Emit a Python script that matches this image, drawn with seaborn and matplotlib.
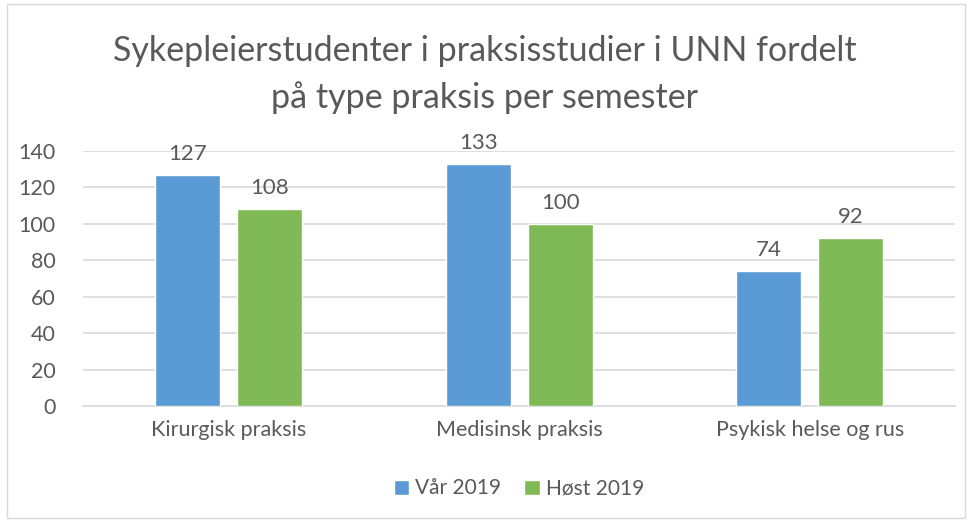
import pandas as pd
import matplotlib.pyplot as plt
import seaborn as sns
from matplotlib.patches import Rectangle

# data
categories = ["Kirurgisk praksis", "Medisinsk praksis", "Psykisk helse og rus"]
semesters = ["Vår 2019", "Høst 2019"]
var_2019 = [127, 133, 74]
host_2019 = [108, 100, 92]

df = pd.DataFrame({
    "praksis": categories * 2,
    "semester": [semesters[0]] * 3 + [semesters[1]] * 3,
    "antall": var_2019 + host_2019,
})

sns.set_style("white")
plt.rcParams['font.family'] = ['Lato', 'DejaVu Sans']
grey = "#595959"

fig = plt.figure(figsize=(9.7, 5.22), dpi=100)
ax = fig.add_axes([0.0856, 0.222, 0.899, 0.4887])

sns.barplot(data=df, x="praksis", y="antall", hue="semester",
            palette=["#5B9BD5", "#7FBA57"], saturation=1, width=0.564, gap=0.207,
            ax=ax, zorder=3)

for cont in ax.containers:
    ax.bar_label(cont, padding=8, fontsize=16, color=grey)

ax.set_ylim(0, 140)
ax.set_yticks(range(0, 141, 20))
ax.set_xlim(-0.5, 2.5)
ax.yaxis.grid(True, color="#D9D9D9", linewidth=1.2, zorder=0)
ax.set_xlabel("")
ax.set_ylabel("")
for s in ["top", "right", "left"]:
    ax.spines[s].set_visible(False)
ax.spines["bottom"].set_color("#D9D9D9")
ax.spines["bottom"].set_linewidth(1.2)
ax.tick_params(axis="x", length=0, labelsize=15.5, colors=grey, pad=10)
ax.tick_params(axis="y", length=0, labelsize=15.5, colors=grey, pad=20)

ax.legend(loc="upper center", bbox_to_anchor=(0.5, -0.21), ncol=2, frameon=False,
          fontsize=15, labelcolor=grey, handlelength=0.75, handleheight=0.75,
          handletextpad=0.3, columnspacing=1.1)

fig.text(0.5, 0.857, "Sykepleierstudenter i praksisstudier i UNN fordelt\npå type praksis per semester",
         ha="center", va="center", fontsize=24.5, color=grey, linespacing=1.55)

fig.patches.append(Rectangle((0.007, 0.008), 0.988, 0.985, transform=fig.transFigure,
                             fill=False, edgecolor="#D9D9D9", linewidth=1))

fig.savefig("out.png", dpi=100)
